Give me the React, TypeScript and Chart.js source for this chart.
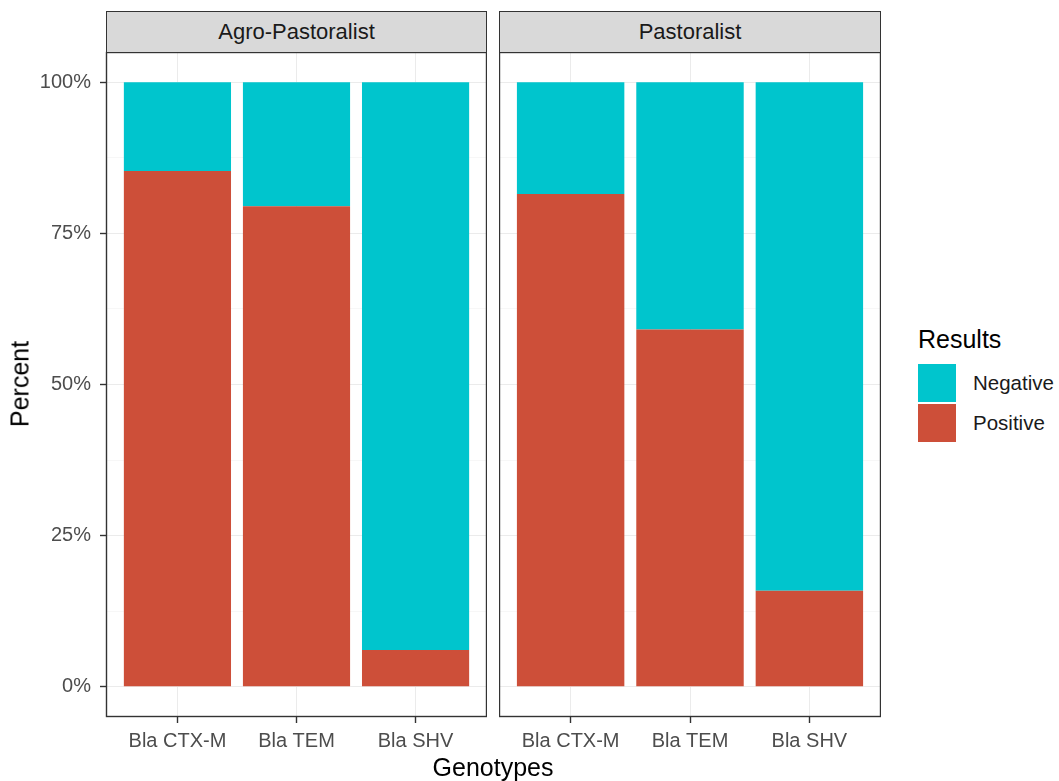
import React, { useEffect, useRef } from "react";
import { Chart, registerables } from "chart.js";

Chart.register(...registerables);

const categories = ["Bla CTX-M", "Bla TEM", "Bla SHV"];
const facets = ["Agro-Pastoralist", "Pastoralist"];
const agroPositive = [0.853, 0.795, 0.061];
const agroNegative = [0.147, 0.205, 0.939];
const pastPositive = [0.815, 0.591, 0.159];
const pastNegative = [0.185, 0.409, 0.841];
const yTicks = [0, 0.25, 0.5, 0.75, 1];
const yMinorTicks = [0.125, 0.375, 0.625, 0.875];

const POS_COLOR = "#CD4F39";
const NEG_COLOR = "#00C5CD";
const FONT = "'Liberation Sans', Arial, sans-serif";

const panelBorder = {
  id: "panelBorder",
  afterDraw(chart: any) {
    const { ctx, chartArea } = chart;
    ctx.save();
    ctx.strokeStyle = "#333333";
    ctx.lineWidth = 1.4;
    ctx.strokeRect(
      chartArea.left + 0.5,
      chartArea.top + 0.5,
      chartArea.right - chartArea.left - 1,
      chartArea.bottom - chartArea.top - 1
    );
    ctx.restore();
  },
};

function makeConfig(pos: number[], neg: number[], showY: boolean) {
  const allY = [...yTicks, ...yMinorTicks].sort((a, b) => a - b);
  const isMajor = (v: number) => yTicks.some((t) => Math.abs(t - v) < 1e-9);
  return {
    type: "bar",
    data: {
      datasets: [
        {
          label: "Positive",
          data: categories.map((_, i) => ({ x: i + 1, y: pos[i] })),
          backgroundColor: POS_COLOR,
          stack: "s",
          barPercentage: 0.9,
          categoryPercentage: 1,
          borderWidth: 0,
        },
        {
          label: "Negative",
          data: categories.map((_, i) => ({ x: i + 1, y: neg[i] })),
          backgroundColor: NEG_COLOR,
          stack: "s",
          barPercentage: 0.9,
          categoryPercentage: 1,
          borderWidth: 0,
        },
      ],
    },
    options: {
      responsive: false,
      animation: false,
      layout: { padding: { top: 40, left: 0, right: 0, bottom: 0 } },
      plugins: { legend: { display: false }, tooltip: { enabled: false } },
      scales: {
        x: {
          type: "linear",
          min: 0.4,
          max: 3.6,
          offset: false,
          stacked: true,
          afterBuildTicks: (scale: any) => {
            scale.ticks = categories.map((_, i) => ({ value: i + 1 }));
          },
          afterFit: (scale: any) => {
            scale.height = 64;
          },
          ticks: {
            autoSkip: false,
            maxRotation: 0,
            padding: 6,
            color: "#4D4D4D",
            font: { family: FONT, size: 20 },
            callback: (v: any) => categories[Math.round(v) - 1] ?? "",
          },
          grid: {
            offset: false,
            color: "#EBEBEB",
            lineWidth: 1,
            tickColor: "#333333",
            tickLength: 6,
            tickWidth: 1.4,
          },
          border: { display: false },
        },
        y: {
          type: "linear",
          min: -0.05,
          max: 1.05,
          stacked: true,
          afterBuildTicks: (scale: any) => {
            scale.ticks = allY.map((v) => ({ value: v }));
          },
          afterFit: (scale: any) => {
            scale.width = showY ? 106 : 0;
          },
          ticks: {
            display: showY,
            autoSkip: false,
            padding: 9,
            color: "#4D4D4D",
            font: { family: FONT, size: 20 },
            callback: (v: any) => (isMajor(v) ? `${Math.round(v * 100)}%` : ""),
          },
          grid: {
            drawTicks: showY,
            color: (c: any) => (c.tick && isMajor(c.tick.value) ? "#EBEBEB" : "#F4F4F4"),
            lineWidth: (c: any) => (c.tick && isMajor(c.tick.value) ? 1 : 0.7),
            tickColor: (c: any) => (c.tick && isMajor(c.tick.value) ? "#333333" : "rgba(0,0,0,0)"),
            tickLength: 6,
            tickWidth: 1.4,
          },
          border: { display: false },
        },
      },
    },
    plugins: [panelBorder],
  };
}

function Panel(props: { pos: number[]; neg: number[]; showY: boolean; left: number; width: number }) {
  const ref = useRef<HTMLCanvasElement | null>(null);
  useEffect(() => {
    if (!ref.current) return;
    const chart = new Chart(ref.current, makeConfig(props.pos, props.neg, props.showY) as any);
    return () => chart.destroy();
  }, []);
  return (
    <canvas
      ref={ref}
      width={props.width}
      height={769}
      style={{ position: "absolute", left: props.left, top: 12, width: props.width, height: 769, display: "block" }}
    />
  );
}

function Strip(props: { text: string; left: number; width: number }) {
  return (
    <div
      style={{
        position: "absolute",
        left: props.left,
        top: 11,
        width: props.width,
        height: 41,
        boxSizing: "border-box",
        background: "#D9D9D9",
        border: "1.4px solid #333333",
        borderBottom: "none",
        display: "flex",
        alignItems: "center",
        justifyContent: "center",
        fontFamily: FONT,
        fontSize: 22,
        color: "#1A1A1A",
      }}
    >
      {props.text}
    </div>
  );
}

export default function App() {
  return (
    <div
      style={{
        position: "fixed",
        left: 0,
        top: 0,
        width: 1059,
        height: 781,
        overflow: "hidden",
        background: "#FFFFFF",
        fontFamily: FONT,
      }}
    >
      <Panel pos={agroPositive} neg={agroNegative} showY={true} left={0} width={487} />
      <Panel pos={pastPositive} neg={pastNegative} showY={false} left={499} width={382} />
      <Strip text={facets[0]} left={106} width={381} />
      <Strip text={facets[1]} left={499} width={382} />
      <div
        style={{
          position: "absolute",
          left: 20,
          top: 384,
          transform: "translate(-50%, -50%) rotate(-90deg)",
          fontSize: 25,
          color: "#000",
          whiteSpace: "nowrap",
          lineHeight: 1,
        }}
      >
        Percent
      </div>
      <div
        style={{
          position: "absolute",
          left: 493,
          top: 755,
          transform: "translateX(-50%)",
          fontSize: 25,
          color: "#000",
          whiteSpace: "nowrap",
          lineHeight: 1,
        }}
      >
        Genotypes
      </div>
      <div style={{ position: "absolute", left: 918, top: 327, fontSize: 25, lineHeight: 1, color: "#000" }}>
        Results
      </div>
      {[
        { label: "Negative", color: NEG_COLOR, top: 364 },
        { label: "Positive", color: POS_COLOR, top: 404 },
      ].map((k) => (
        <div
          key={k.label}
          style={{ position: "absolute", left: 918, top: k.top, height: 38, display: "flex", alignItems: "center" }}
        >
          <div style={{ width: 38, height: 38, background: k.color }} />
          <div style={{ marginLeft: 17, fontSize: 20.5, color: "#1A1A1A", lineHeight: 1 }}>{k.label}</div>
        </div>
      ))}
    </div>
  );
}
